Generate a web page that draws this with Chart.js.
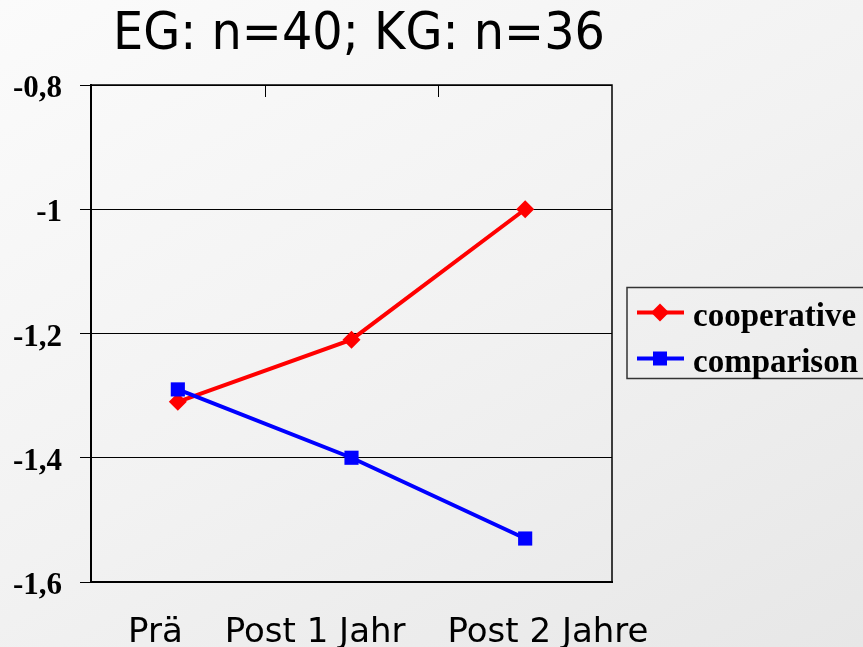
<!DOCTYPE html>
<html>
<head>
<meta charset="utf-8">
<title>EG / KG</title>
<script src="https://cdn.jsdelivr.net/npm/chart.js@4/dist/chart.umd.min.js"></script>
<style>
  html, body { margin: 0; padding: 0; }
  body {
    width: 863px; height: 647px; overflow: hidden;
    background: linear-gradient(150deg, #fbfbfb 0%, #f2f2f2 50%, #e7e7e7 100%);
  }
  canvas { display: block; }
</style>
</head>
<body>
<canvas id="chart" width="863" height="647"></canvas>
<script>
"use strict";

const titleText = "EG: n=40; KG: n=36";
const categories = ["Prä", "Post 1 Jahr", "Post 2 Jahre"];
const cooperative = [-1.31, -1.21, -1.0];
const comparison = [-1.29, -1.40, -1.53];
const yTicks = [-1.6, -1.4, -1.2, -1, -0.8];
const seriesNames = ["cooperative", "comparison"];
const seriesColors = ["#ff0000", "#0000ff"];

const SANS = "'DejaVu Sans', Verdana, sans-serif";
const SERIF = "'Liberation Serif', 'Times New Roman', serif";

function formatTick(v) {
    return String(Math.round(v * 10) / 10).replace(".", ",");
}

function drawMarker(ctx, style, x, y, r, color) {
    ctx.fillStyle = color;
    ctx.beginPath();
    if (style === "rectRot") {
        ctx.moveTo(x, y - r);
        ctx.lineTo(x + r, y);
        ctx.lineTo(x, y + r);
        ctx.lineTo(x - r, y);
    } else {
        ctx.rect(x - r, y - r, 2 * r, 2 * r);
    }
    ctx.closePath();
    ctx.fill();
}

// frame, inner tick marks, title, category labels and the boxed legend
const decorations = {
    id: "decorations",
    beforeDatasetsDraw(chart) {
        const ctx = chart.ctx;
        const area = chart.chartArea;
        const x = chart.scales.x;
        ctx.save();
        ctx.strokeStyle = "#000";
        ctx.lineWidth = 1.5;
        ctx.strokeRect(area.left, area.top, area.right - area.left, area.bottom - area.top);
        // small tick marks hanging from the top edge between categories
        ctx.lineWidth = 1;
        for (let i = 0; i < categories.length - 1; i++) {
            const px = Math.round((x.getPixelForValue(i) + x.getPixelForValue(i + 1)) / 2) + 0.5;
            ctx.beginPath();
            ctx.moveTo(px, area.top);
            ctx.lineTo(px, area.top + 12);
            ctx.stroke();
        }
        ctx.restore();
    },
    afterDraw(chart) {
        const ctx = chart.ctx;
        const area = chart.chartArea;
        ctx.save();

        // title, slightly condensed like the original deck font
        ctx.fillStyle = "#000";
        ctx.font = "51px " + SANS;
        ctx.textBaseline = "alphabetic";
        ctx.textAlign = "left";
        const tw = ctx.measureText(titleText).width;
        const squeeze = 492 / tw;
        ctx.translate(113, 49);
        ctx.scale(squeeze, 1);
        ctx.fillText(titleText, 0, 0);
        ctx.setTransform(1, 0, 0, 1, 0, 0);

        // category labels written as one line under the plot
        ctx.font = "34px " + SANS;
        let lx = area.left + 37;
        categories.forEach(label => {
            ctx.fillText(label, lx, area.bottom + 60);
            lx += ctx.measureText(label).width + 42;
        });

        // legend box to the right of the plot
        const boxLeft = area.right + 15;
        const boxTop = (area.top + area.bottom) / 2 - 46;
        ctx.strokeStyle = "#333";
        ctx.lineWidth = 1.5;
        ctx.strokeRect(boxLeft, boxTop, 260, 91);
        ctx.font = "bold 33px " + SERIF;
        chart.data.datasets.forEach((ds, i) => {
            const cy = boxTop + 25 + i * 46;
            ctx.strokeStyle = ds.borderColor;
            ctx.lineWidth = 4;
            ctx.beginPath();
            ctx.moveTo(boxLeft + 10, cy);
            ctx.lineTo(boxLeft + 57, cy);
            ctx.stroke();
            drawMarker(ctx, ds.pointStyle, boxLeft + 33, cy, ds.pointStyle === "rectRot" ? 9 : 7, ds.backgroundColor);
            ctx.fillStyle = "#000";
            ctx.fillText(ds.label, boxLeft + 66, cy + 13);
        });
        ctx.restore();
    }
};

new Chart(document.getElementById("chart"), {
    type: "line",
    data: {
        labels: categories,
        datasets: [
            {
                label: seriesNames[0],
                data: cooperative,
                borderColor: seriesColors[0],
                backgroundColor: seriesColors[0],
                borderWidth: 4,
                pointStyle: "rectRot",
                pointRadius: 9,
                pointBorderWidth: 0,
                tension: 0,
                order: 2
            },
            {
                label: seriesNames[1],
                data: comparison,
                borderColor: seriesColors[1],
                backgroundColor: seriesColors[1],
                borderWidth: 4,
                pointStyle: "rect",
                pointRadius: 10,
                pointBorderWidth: 0,
                tension: 0,
                order: 1
            }
        ]
    },
    options: {
        responsive: false,
        animation: false,
        devicePixelRatio: 1,
        layout: { padding: { top: 85, right: 251, left: 0, bottom: 0 } },
        plugins: {
            legend: { display: false },
            title: { display: false },
            tooltip: { enabled: false }
        },
        scales: {
            x: {
                offset: true,
                grid: { display: false },
                border: { display: true, color: "#000", width: 2 },
                ticks: { display: false },
                afterFit: scale => { scale.height = 65; }
            },
            y: {
                min: -1.6,
                max: -0.8,
                afterBuildTicks: scale => { scale.ticks = yTicks.map(v => ({ value: v })); },
                grid: { color: "#000", lineWidth: 1, tickLength: 11 },
                border: { display: true, color: "#000", width: 2 },
                ticks: {
                    padding: 18,
                    labelOffset: 4,
                    color: "#000",
                    font: { family: SERIF, size: 31, weight: "bold" },
                    callback: v => formatTick(v)
                },
                afterFit: scale => { scale.width = 91; }
            }
        }
    },
    plugins: [decorations]
});
</script>
</body>
</html>
